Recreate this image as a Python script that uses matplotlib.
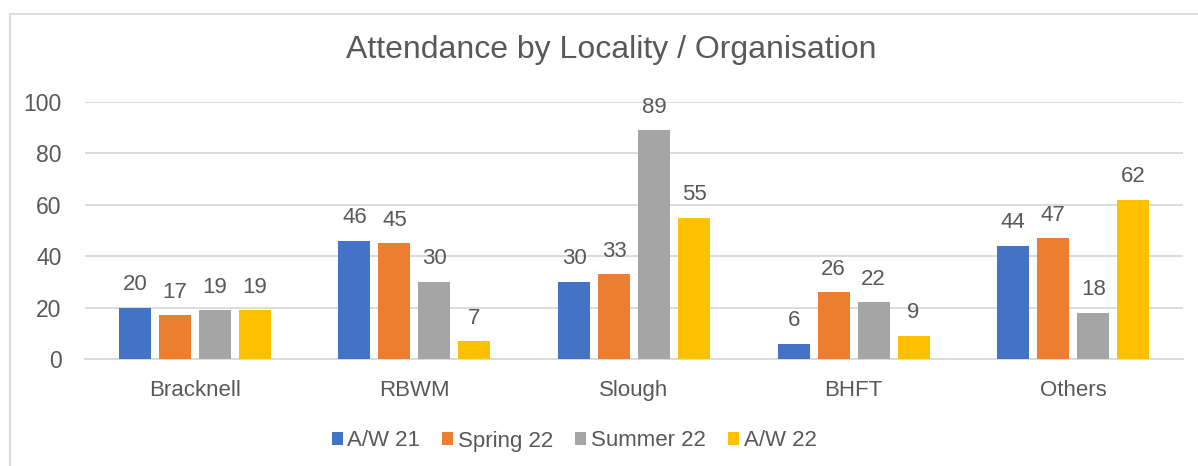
import matplotlib.pyplot as plt
import numpy as np
from matplotlib.patches import Rectangle

plt.rcParams['font.family'] = ['Liberation Sans', 'DejaVu Sans']

# data
categories = ['Bracknell', 'RBWM', 'Slough', 'BHFT', 'Others']
series = ['A/W 21', 'Spring 22', 'Summer 22', 'A/W 22']
aw21 = [20, 46, 30, 6, 44]
spring22 = [17, 45, 33, 26, 47]
summer22 = [19, 30, 89, 22, 18]
aw22 = [19, 7, 55, 9, 62]
values = [aw21, spring22, summer22, aw22]
colors = ['#4472C4', '#ED7D31', '#A5A5A5', '#FFC000']

txt = '#595959'
W, H = 1198, 466
fig = plt.figure(figsize=(W / 100, H / 100), dpi=100)
ax = fig.add_axes([85 / W, 1 - 359 / H, (1183 - 85) / W, (359 - 102) / H])

# chart border (cut off on the right and bottom in the original)
fig.patches.append(Rectangle((10 / W, -0.1), 1.2, 1.1 - 14 / H, transform=fig.transFigure,
                             fill=False, edgecolor='#D9D9D9', linewidth=1.3, zorder=0))

ind = np.arange(len(categories))
step = 40 / 219.6
width = 32 / 219.6
for i, (vals, col, name) in enumerate(zip(values, colors, series)):
    pos = ind + (i - 1.5) * step
    bars = ax.bar(pos, vals, width, color=col, label=name, zorder=3)
    for b, v in zip(bars, vals):
        ax.annotate(str(v), (b.get_x() + b.get_width() / 2, v), xytext=(0, 9),
                    textcoords='offset points', ha='center', va='bottom',
                    fontsize=16, color=txt)

ax.set_xlim(-0.5, len(categories) - 0.5)
ax.set_ylim(0, 100)
ax.set_yticks(range(0, 101, 20))
ax.set_xticks(ind)
ax.set_xticklabels(categories)
ax.grid(axis='y', color='#D9D9D9', linewidth=1.3, zorder=0)
for s in ['top', 'right', 'left']:
    ax.spines[s].set_visible(False)
ax.spines['bottom'].set_color('#D9D9D9')
ax.spines['bottom'].set_linewidth(1.3)
ax.tick_params(axis='both', length=0, labelcolor=txt)
ax.tick_params(axis='y', labelsize=16.5, pad=17)
ax.tick_params(axis='x', labelsize=16, pad=15)

fig.text(611.5 / W, 1 - 50 / H, 'Attendance by Locality / Organisation',
         ha='center', va='center', fontsize=23, color=txt)

leg = fig.legend(loc='center', bbox_to_anchor=(574 / W, 1 - 441 / H), ncol=4,
                 frameon=False, fontsize=16, handlelength=0.5, handleheight=0.5,
                 handletextpad=0.2, columnspacing=1.0)
for t in leg.get_texts():
    t.set_color(txt)

plt.savefig('out.png', dpi=100)
